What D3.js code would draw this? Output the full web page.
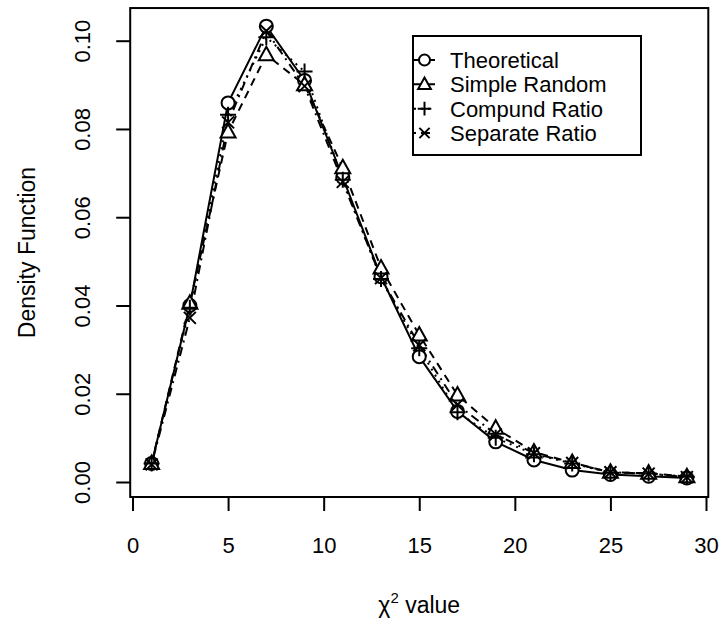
<!DOCTYPE html>
<html>
<head>
<meta charset="utf-8">
<script src="https://cdn.jsdelivr.net/npm/d3@7"></script>
<style>
  body { margin: 0; background: #fff; }
  svg { font-family: "Liberation Sans", Arial, sans-serif; }
</style>
</head>
<body>
<svg id="chart" width="721" height="625"></svg>
<script>
const chiValues = [1, 3, 5, 7, 9, 11, 13, 15, 17, 19, 21, 23, 25, 27, 29];
const theoretical = [0.0042, 0.0400, 0.0859, 0.1033, 0.0910, 0.0690, 0.0465, 0.0284, 0.0160, 0.0091, 0.0050, 0.0027, 0.0017, 0.0013, 0.0009];
const simpleRandom = [0.0042, 0.0405, 0.0793, 0.0968, 0.0900, 0.0712, 0.0485, 0.0333, 0.0197, 0.0122, 0.0068, 0.0044, 0.0022, 0.0020, 0.0012];
const compundRatio = [0.0042, 0.0395, 0.0832, 0.1008, 0.0930, 0.0685, 0.0460, 0.0303, 0.0158, 0.0100, 0.0063, 0.0042, 0.0021, 0.0019, 0.0012];
const separateRatio = [0.0040, 0.0372, 0.0815, 0.1022, 0.0897, 0.0680, 0.0462, 0.0310, 0.0175, 0.0108, 0.0065, 0.0043, 0.0022, 0.0019, 0.0011];
const seriesNames = ["Theoretical", "Simple Random", "Compund Ratio", "Separate Ratio"];
const xTicks = [0, 5, 10, 15, 20, 25, 30];
const yTicks = [0, 0.02, 0.04, 0.06, 0.08, 0.10];

const series = [
  { name: seriesNames[0], values: theoretical, shape: "circle", dash: null },
  { name: seriesNames[1], values: simpleRandom, shape: "triangle", dash: "8,6" },
  { name: seriesNames[2], values: compundRatio, shape: "plus", dash: "2,5" },
  { name: seriesNames[3], values: separateRatio, shape: "cross", dash: "2,5,9,5" }
];

const svg = d3.select("#chart");

const x = d3.scaleLinear().domain([0, 30]).range([132.5, 706]);
const y = d3.scaleLinear().domain([0, 0.1]).range([482, 40.7]);

// plot box
const boxLeft = x(-0.12), boxRight = x(30.12);
const boxTop = y(0.1074), boxBottom = y(-0.0034);
svg.append("rect")
  .attr("x", boxLeft).attr("y", boxTop)
  .attr("width", boxRight - boxLeft).attr("height", boxBottom - boxTop)
  .attr("fill", "none").attr("stroke", "#000").attr("stroke-width", 2);

// X axis
const xAxis = svg.append("g")
  .attr("transform", `translate(0, ${boxBottom})`)
  .call(d3.axisBottom(x).tickValues(xTicks).tickSize(14).tickPadding(26).tickFormat(d3.format("d")));
xAxis.select(".domain").remove();
xAxis.selectAll("line").attr("stroke-width", 2);
xAxis.selectAll("text").attr("font-size", 22).attr("fill", "#000")
  .attr("font-family", "Liberation Sans, Arial, sans-serif");

// Y axis
const yAxis = svg.append("g")
  .attr("transform", `translate(${boxLeft}, 0)`)
  .call(d3.axisLeft(y).tickValues(yTicks).tickSize(14).tickFormat(d3.format(".2f")));
yAxis.select(".domain").remove();
yAxis.selectAll("line").attr("stroke-width", 2);
yAxis.selectAll("text")
  .attr("x", null).attr("dy", null)
  .attr("transform", "translate(-40, 0) rotate(-90)")
  .attr("text-anchor", "middle")
  .attr("font-size", 22).attr("fill", "#000")
  .attr("font-family", "Liberation Sans, Arial, sans-serif");

// Axis titles
const xTitle = svg.append("text")
  .attr("x", (boxLeft + boxRight) / 2)
  .attr("y", 613)
  .attr("text-anchor", "middle")
  .attr("font-size", 23);
xTitle.append("tspan").text("χ");
xTitle.append("tspan").attr("font-size", 15).attr("dy", -10).text("2");
xTitle.append("tspan").attr("dy", 10).text(" value");

svg.append("text")
  .attr("transform", `translate(35, ${(boxTop + boxBottom) / 2}) rotate(-90)`)
  .attr("text-anchor", "middle")
  .attr("font-size", 23)
  .text("Density Function");

// symbols
function drawSymbol(g, shape, cx, cy, k = 1) {
  const s = g.append("g").attr("transform", `translate(${cx}, ${cy}) scale(${k})`)
    .attr("fill", "none").attr("stroke", "#000").attr("stroke-width", 2 / k);
  if (shape === "circle") {
    s.append("circle").attr("r", 6.5).attr("fill", "#fff");
  } else if (shape === "triangle") {
    s.append("path").attr("d", "M0,-8L7.5,5.5L-7.5,5.5Z").attr("fill", "#fff");
  } else if (shape === "plus") {
    s.append("path").attr("d", "M-8,0H8M0,-8V8");
  } else {
    s.append("path").attr("d", "M-6,-6L6,6M-6,6L6,-6");
  }
}

const line = d3.line()
  .x((d, i) => x(chiValues[i]))
  .y(d => y(d));

series.forEach(s => {
  svg.append("path")
    .datum(s.values)
    .attr("d", line)
    .attr("fill", "none")
    .attr("stroke", "#000")
    .attr("stroke-width", 2)
    .attr("stroke-dasharray", s.dash);
});

series.forEach(s => {
  const g = svg.append("g");
  s.values.forEach((v, i) => drawSymbol(g, s.shape, x(chiValues[i]), y(v)));
});

// Legend
const legend = svg.append("g");
legend.append("rect")
  .attr("x", 413).attr("y", 36).attr("width", 228).attr("height", 119)
  .attr("fill", "#fff").attr("stroke", "#000").attr("stroke-width", 2);

const legendY = d3.scalePoint().domain(seriesNames).range([60, 133]);
series.forEach(s => {
  const cy = legendY(s.name);
  legend.append("line")
    .attr("x1", 414).attr("x2", 435).attr("y1", cy).attr("y2", cy)
    .attr("stroke", "#000").attr("stroke-width", 2)
    .attr("stroke-dasharray", s.dash);
  drawSymbol(legend, s.shape, 424.5, cy, 0.85);
  legend.append("text")
    .attr("x", 450).attr("y", cy + 8)
    .attr("font-size", 22)
    .text(s.name);
});
</script>
</body>
</html>
